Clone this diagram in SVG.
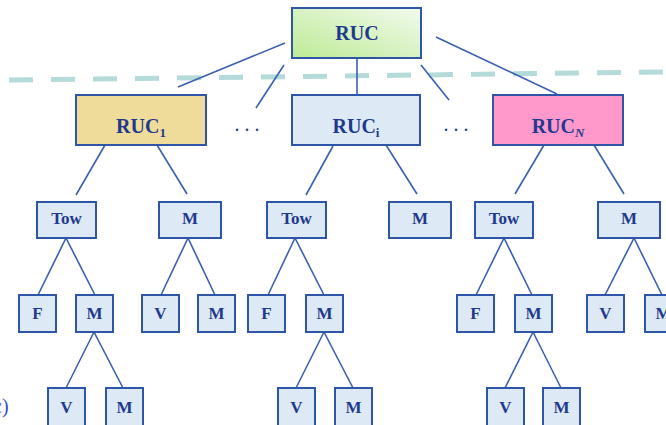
<svg xmlns="http://www.w3.org/2000/svg" width="666" height="425" viewBox="0 0 666 425">
<defs>
<linearGradient id="gRuc" x1="0" y1="1" x2="1" y2="0">
<stop offset="0" stop-color="#bdeb95"/>
<stop offset="1" stop-color="#f2faee"/>
</linearGradient>
</defs>
<style>
.box{stroke:#2f56a6;stroke-width:2;fill:#dde9f5}
.ln{stroke:#3a5fb0;stroke-width:1.6;fill:none}
.t{font-family:"Liberation Serif","Times New Roman",serif;font-weight:bold;fill:#1f3a8c;text-anchor:middle}
.big{font-size:20px}
.sm{font-size:17px}
.dots{font-family:"Liberation Serif",serif;font-size:20px;fill:#1f3a8c;text-anchor:middle}
</style>
<rect width="666" height="425" fill="#ffffff"/>
<line x1="9" y1="80" x2="666" y2="72" stroke="#b4dada" stroke-width="5" stroke-dasharray="24 18"/>
<g id="connectors">
<line class="ln" x1="285" y1="43" x2="178" y2="87"/>
<line class="ln" x1="284" y1="65" x2="256" y2="108"/>
<line class="ln" x1="357" y1="58" x2="357" y2="95"/>
<line class="ln" x1="421" y1="65" x2="449" y2="100"/>
<line class="ln" x1="436" y1="37" x2="557" y2="94"/>
<line class="ln" x1="105" y1="145" x2="76" y2="195"/>
<line class="ln" x1="157" y1="145" x2="187" y2="194"/>
<line class="ln" x1="333" y1="146" x2="306" y2="195"/>
<line class="ln" x1="386" y1="145" x2="417" y2="194"/>
<line class="ln" x1="544" y1="145" x2="515" y2="194"/>
<line class="ln" x1="594" y1="145" x2="624" y2="194"/>
<line class="ln" x1="66" y1="238" x2="38" y2="295"/>
<line class="ln" x1="66" y1="238" x2="95" y2="295"/>
<line class="ln" x1="188" y1="238" x2="161" y2="295"/>
<line class="ln" x1="188" y1="238" x2="215" y2="295"/>
<line class="ln" x1="295" y1="238" x2="268" y2="295"/>
<line class="ln" x1="295" y1="238" x2="324" y2="295"/>
<line class="ln" x1="504" y1="238" x2="476" y2="295"/>
<line class="ln" x1="504" y1="238" x2="532" y2="295"/>
<line class="ln" x1="634" y1="238" x2="605" y2="295"/>
<line class="ln" x1="634" y1="238" x2="662" y2="295"/>
<line class="ln" x1="94" y1="332" x2="66" y2="388"/>
<line class="ln" x1="94" y1="332" x2="123" y2="388"/>
<line class="ln" x1="324" y1="332" x2="296" y2="388"/>
<line class="ln" x1="324" y1="332" x2="353" y2="388"/>
<line class="ln" x1="533" y1="332" x2="505" y2="388"/>
<line class="ln" x1="533" y1="332" x2="561" y2="388"/>
</g>
<g id="ruc"><rect class="box" x="292" y="8" width="129" height="50" fill="url(#gRuc)" style="fill:url(#gRuc)"/><text class="t big" x="357" y="40">RUC</text></g>
<g id="ruc1"><rect class="box" x="76" y="95" width="130" height="50" style="fill:#f0dc9a"/><text class="t big" x="141" y="133">RUC<tspan font-size="13" dy="4">1</tspan></text></g>
<g id="dots1"><text class="dots" x="247" y="131">. . .</text></g>
<g id="ruci"><rect class="box" x="292" y="95" width="128" height="50"/><text class="t big" x="356" y="133">RUC<tspan font-size="13" dy="4">i</tspan></text></g>
<g id="dots2"><text class="dots" x="456" y="131">. . .</text></g>
<g id="rucn"><rect class="box" x="493" y="95" width="130" height="50" style="fill:#ff99cc"/><text class="t big" x="558" y="133">RUC<tspan font-size="13" dy="4" font-style="italic">N</tspan></text></g>
<g id="tow1"><rect class="box" x="37" y="202" width="59" height="36"/><text class="t sm" x="66.5" y="224">Tow</text></g>
<g id="m1"><rect class="box" x="159" y="202" width="62" height="36"/><text class="t sm" x="190" y="224">M</text></g>
<g id="tow2"><rect class="box" x="267" y="202" width="59" height="36"/><text class="t sm" x="296.5" y="224">Tow</text></g>
<g id="m2"><rect class="box" x="389" y="202" width="62" height="36"/><text class="t sm" x="420" y="224">M</text></g>
<g id="tow3"><rect class="box" x="475" y="202" width="58" height="36"/><text class="t sm" x="504" y="224">Tow</text></g>
<g id="m3"><rect class="box" x="598" y="202" width="62" height="36"/><text class="t sm" x="629" y="224">M</text></g>
<g id="f1"><rect class="box" x="19" y="295" width="37" height="37"/><text class="t sm" x="37.5" y="319">F</text></g>
<g id="m11"><rect class="box" x="76" y="295" width="37" height="37"/><text class="t sm" x="94.5" y="319">M</text></g>
<g id="v1"><rect class="box" x="142" y="295" width="37" height="37"/><text class="t sm" x="160.5" y="319">V</text></g>
<g id="m12"><rect class="box" x="198" y="295" width="37" height="37"/><text class="t sm" x="216.5" y="319">M</text></g>
<g id="f2"><rect class="box" x="248" y="295" width="37" height="37"/><text class="t sm" x="266.5" y="319">F</text></g>
<g id="m21"><rect class="box" x="306" y="295" width="37" height="37"/><text class="t sm" x="324.5" y="319">M</text></g>
<g id="f3"><rect class="box" x="457" y="295" width="37" height="37"/><text class="t sm" x="475.5" y="319">F</text></g>
<g id="m31"><rect class="box" x="515" y="295" width="37" height="37"/><text class="t sm" x="533.5" y="319">M</text></g>
<g id="v3"><rect class="box" x="587" y="295" width="37" height="37"/><text class="t sm" x="605.5" y="319">V</text></g>
<g id="m32"><rect class="box" x="645" y="295" width="37" height="37"/><text class="t sm" x="663.5" y="319">M</text></g>
<g id="v11"><rect class="box" x="48" y="388" width="37" height="40"/><text class="t sm" x="66.5" y="413">V</text></g>
<g id="m111"><rect class="box" x="106" y="388" width="37" height="40"/><text class="t sm" x="124.5" y="413">M</text></g>
<g id="v21"><rect class="box" x="278" y="388" width="37" height="40"/><text class="t sm" x="296.5" y="413">V</text></g>
<g id="m211"><rect class="box" x="335" y="388" width="37" height="40"/><text class="t sm" x="353.5" y="413">M</text></g>
<g id="v31"><rect class="box" x="487" y="388" width="37" height="40"/><text class="t sm" x="505.5" y="413">V</text></g>
<g id="m311"><rect class="box" x="543" y="388" width="37" height="40"/><text class="t sm" x="561.5" y="413">M</text></g>
<text x="-7" y="413" font-family="Liberation Serif, serif" font-size="20" fill="#3550c0">c)</text>
</svg>
